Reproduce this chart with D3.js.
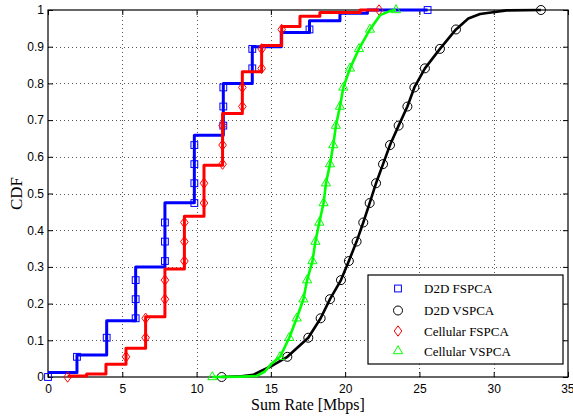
<!DOCTYPE html>
<html lang="en">
<head>
<meta charset="UTF-8">
<title>CDF of sum rate</title>
<script src="https://d3js.org/d3.v7.min.js"></script>
<style>
  body { margin: 0; background: #fff; }
</style>
</head>
<body>
<div id="chart"></div>
<script>
// ---- data ----
var xTicks = [0, 5, 10, 15, 20, 25, 30, 35];
var yTicks = [0, 0.1, 0.2, 0.3, 0.4, 0.5, 0.6, 0.7, 0.8, 0.9, 1];

// step curves (value holds from x until the next x)
var d2dFsX = [0, 1.95, 3.95, 5.9, 7.87, 9.85, 11.8, 13.75, 15.7, 17.6, 19.65, 21.5, 25.55];
var d2dFsY = [0.012, 0.06, 0.153, 0.30, 0.475, 0.659, 0.80, 0.90, 0.939, 0.971, 0.991, 1.0, 1.0];

var cellFsX = [1.32, 2.6, 3.9, 5.25, 6.57, 7.87, 9.18, 10.5, 11.75, 13.08, 14.38, 15.73, 16.96, 18.3, 21.0, 22.28];
var cellFsY = [0.003, 0.008, 0.035, 0.078, 0.164, 0.294, 0.438, 0.577, 0.718, 0.832, 0.903, 0.955, 0.983, 0.993, 1.0, 1.0];

// smooth curves
var d2dVsX = [11.69, 13.0, 13.82, 14.38, 15.06, 16.11, 17.52, 18.35, 18.98, 19.72, 20.25, 20.77, 21.22, 21.65, 22.08, 22.55, 23.02, 23.6, 24.19, 24.66, 25.37, 26.38, 27.46, 28.29, 29.08, 29.95, 30.87, 33.18];
var d2dVsY = [0, 0.002, 0.006, 0.017, 0.03, 0.055, 0.107, 0.16, 0.212, 0.264, 0.316, 0.369, 0.421, 0.474, 0.528, 0.58, 0.632, 0.685, 0.737, 0.789, 0.841, 0.894, 0.947, 0.977, 0.989, 0.994, 0.999, 1.0];

var cellVsX = [11.06, 13.0, 14.05, 14.6, 15.06, 15.62, 16.24, 16.74, 17.19, 17.44, 17.8, 18.0, 18.26, 18.55, 18.71, 18.98, 19.2, 19.38, 19.65, 19.88, 20.33, 20.93, 21.67, 22.35, 23.0, 23.42];
var cellVsY = [0, 0.001, 0.003, 0.015, 0.037, 0.055, 0.107, 0.16, 0.212, 0.264, 0.316, 0.369, 0.421, 0.474, 0.528, 0.58, 0.632, 0.685, 0.737, 0.789, 0.841, 0.894, 0.947, 0.986, 0.997, 1.0];

// marker positions (CDF levels and the x of each series at those levels)
var markerY = [0, 0.055, 0.107, 0.16, 0.212, 0.264, 0.316, 0.369, 0.421, 0.474, 0.528, 0.58, 0.632, 0.685, 0.737, 0.789, 0.841, 0.894, 0.947, 1.0];
var d2dFsMX = [0, 1.95, 3.95, 5.9, 5.9, 5.9, 7.87, 7.87, 7.87, 9.85, 9.85, 9.85, 9.85, 11.8, 11.8, 11.8, 13.75, 13.75, 17.6, 25.55];
var d2dVsMX = [11.69, 16.11, 17.52, 18.35, 18.98, 19.72, 20.25, 20.77, 21.22, 21.65, 22.08, 22.55, 23.02, 23.6, 24.19, 24.66, 25.37, 26.38, 27.46, 33.18];
var cellFsMX = [1.32, 5.25, 6.57, 6.57, 7.87, 7.87, 9.18, 9.18, 9.18, 10.5, 10.5, 11.75, 11.75, 11.75, 13.08, 13.08, 14.38, 14.38, 15.73, 22.28];
var cellVsMX = [11.06, 15.62, 16.24, 16.74, 17.19, 17.44, 17.8, 18.0, 18.26, 18.55, 18.71, 18.98, 19.2, 19.38, 19.65, 19.88, 20.33, 20.93, 21.67, 23.42];

var seriesNames = ["D2D FSPCA", "D2D VSPCA", "Cellular FSPCA", "Cellular VSPCA"];

// ---- layout ----
var W = 573, H = 416;
var margin = {top: 10, right: 5, bottom: 39, left: 48};
var x = d3.scaleLinear().domain([0, 35]).range([margin.left, W - margin.right]);
var y = d3.scaleLinear().domain([0, 1]).range([H - margin.bottom, margin.top]);

var svg = d3.select("#chart").append("svg")
  .attr("width", W).attr("height", H)
  .style("font-family", "'Liberation Sans', Arial, sans-serif");

// grid
var grid = svg.append("g").attr("stroke", "#555").attr("stroke-width", 1)
  .attr("stroke-dasharray", "1,3");
grid.selectAll(".gx").data(xTicks.slice(1, -1)).enter().append("line")
  .attr("x1", function(d) { return Math.round(x(d)) + 0.5; })
  .attr("x2", function(d) { return Math.round(x(d)) + 0.5; })
  .attr("y1", y(0)).attr("y2", y(1));
grid.selectAll(".gy").data(yTicks.slice(1, -1)).enter().append("line")
  .attr("y1", function(d) { return Math.round(y(d)) + 0.5; })
  .attr("y2", function(d) { return Math.round(y(d)) + 0.5; })
  .attr("x1", x(0)).attr("x2", x(35));

// axes (ticks inside, on all four sides)
function styleAxis(g) {
  g.select(".domain").remove();
  g.selectAll("text").attr("font-size", 12).attr("fill", "#000");
  g.selectAll("line").attr("stroke", "#000");
}
var xAxisG = svg.append("g").attr("transform", "translate(0," + y(0) + ")")
  .call(d3.axisBottom(x).tickValues(xTicks).tickSizeInner(-5).tickSizeOuter(0).tickPadding(7))
  .call(styleAxis);
// last label sits right at the window edge
xAxisG.selectAll("text").filter(function(d) { return d === 35; }).attr("text-anchor", "end").attr("dx", "6");
svg.append("g").attr("transform", "translate(0," + y(1) + ")")
  .call(d3.axisTop(x).tickValues(xTicks).tickSizeInner(-5).tickSizeOuter(0).tickFormat(""))
  .call(styleAxis);
svg.append("g").attr("transform", "translate(" + x(0) + ",0)")
  .call(d3.axisLeft(y).tickValues(yTicks).tickSizeInner(-5).tickSizeOuter(0).tickPadding(4).tickFormat(d3.format("~g")))
  .call(styleAxis);
svg.append("g").attr("transform", "translate(" + x(35) + ",0)")
  .call(d3.axisRight(y).tickValues(yTicks).tickSizeInner(-5).tickSizeOuter(0).tickFormat(""))
  .call(styleAxis);

svg.append("rect")
  .attr("x", x(0)).attr("y", y(1))
  .attr("width", x(35) - x(0)).attr("height", y(0) - y(1))
  .attr("fill", "none").attr("stroke", "#000").attr("stroke-width", 1.2);

// ---- curves ----
function zip(xs, ys) { return xs.map(function(v, i) { return [v, ys[i]]; }); }

var stepLine = d3.line().curve(d3.curveStepAfter)
  .x(function(d) { return x(d[0]); }).y(function(d) { return y(d[1]); });
var smoothLine = d3.line()
  .x(function(d) { return x(d[0]); }).y(function(d) { return y(d[1]); });

var symSquare = function(g, c) {
  g.append("rect").attr("x", -3.4).attr("y", -3.4).attr("width", 6.8).attr("height", 6.8)
    .attr("fill", "none").attr("stroke", c).attr("stroke-width", 1);
};
var symCircle = function(g, c) {
  g.append("circle").attr("r", 4.5).attr("fill", "none").attr("stroke", c).attr("stroke-width", 1);
};
var symDiamond = function(g, c) {
  g.append("path").attr("d", "M0,-5.2L3.8,0L0,5.2L-3.8,0Z")
    .attr("fill", "none").attr("stroke", c).attr("stroke-width", 1);
};
var symTriangle = function(g, c) {
  g.append("path").attr("d", "M0,-5.3L4.6,2.7L-4.6,2.7Z")
    .attr("fill", "none").attr("stroke", c).attr("stroke-width", 1);
};

var series = [
  {name: seriesNames[0], color: "#0000ff", pts: zip(d2dFsX, d2dFsY), line: stepLine, width: 3, mx: d2dFsMX, sym: symSquare},
  {name: seriesNames[1], color: "#000000", pts: zip(d2dVsX, d2dVsY), line: smoothLine, width: 2.6, mx: d2dVsMX, sym: symCircle},
  {name: seriesNames[2], color: "#ff0000", pts: zip(cellFsX, cellFsY), line: stepLine, width: 3, mx: cellFsMX, sym: symDiamond},
  {name: seriesNames[3], color: "#00ff00", pts: zip(cellVsX, cellVsY), line: smoothLine, width: 2.6, mx: cellVsMX, sym: symTriangle}
];

var plot = svg.append("g");
series.forEach(function(s) {
  plot.append("path").datum(s.pts)
    .attr("fill", "none").attr("stroke", s.color).attr("stroke-width", s.width)
    .attr("stroke-linejoin", "round")
    .attr("d", s.line);
  var mk = plot.append("g");
  s.mx.forEach(function(mxv, i) {
    var g = mk.append("g").attr("transform", "translate(" + x(mxv) + "," + y(markerY[i]) + ")");
    s.sym(g, s.color);
  });
});

// ---- legend ----
var leg = svg.append("g").attr("transform", "translate(368,275)");
leg.append("rect").attr("width", 195).attr("height", 89)
  .attr("fill", "#fff").attr("stroke", "#000").attr("stroke-width", 1.2);
var legY = [13.5, 35.5, 56, 76];
series.forEach(function(s, i) {
  var g = leg.append("g").attr("transform", "translate(30," + legY[i] + ")");
  s.sym(g, s.color);
  leg.append("text").attr("x", 56).attr("y", legY[i] + 4.5)
    .attr("font-family", "'Liberation Serif', 'Times New Roman', serif")
    .attr("font-size", 13).text(s.name);
});

// ---- axis titles ----
svg.append("text")
  .attr("x", (x(0) + x(35)) / 2).attr("y", 410)
  .attr("text-anchor", "middle")
  .attr("font-family", "'Liberation Serif', 'Times New Roman', serif")
  .attr("font-size", 16).text("Sum Rate [Mbps]");
svg.append("text")
  .attr("transform", "translate(22," + (y(0.5)) + ") rotate(-90)")
  .attr("text-anchor", "middle")
  .attr("font-family", "'Liberation Serif', 'Times New Roman', serif")
  .attr("font-size", 17).text("CDF");
</script>
</body>
</html>
